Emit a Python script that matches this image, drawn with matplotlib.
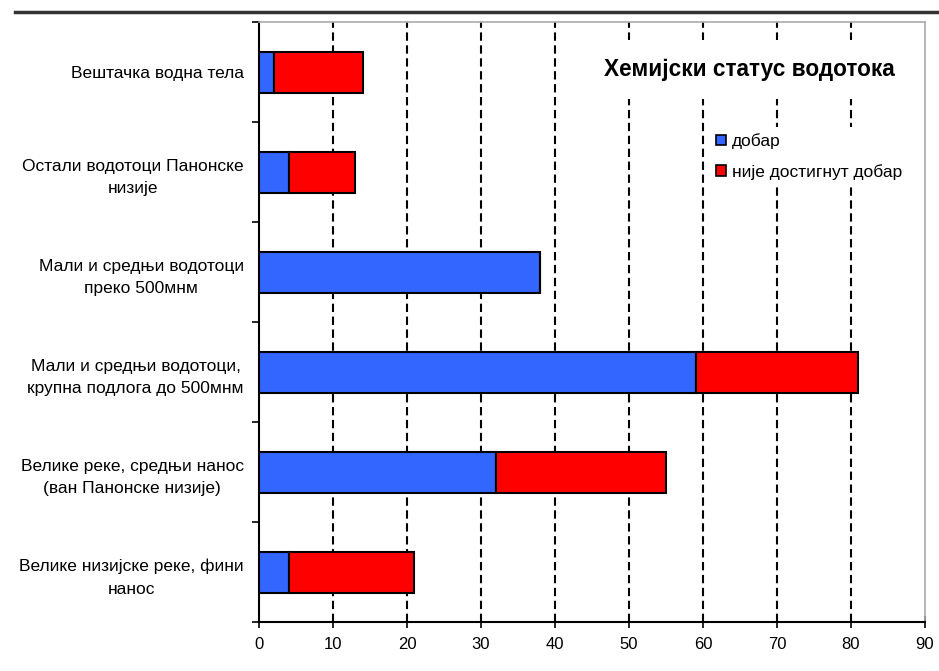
import matplotlib
matplotlib.use("Agg")
import matplotlib.pyplot as plt
from matplotlib.lines import Line2D
from matplotlib.patches import Patch
import numpy as np

plt.rcParams['font.family'] = ['Liberation Sans', 'DejaVu Sans']

categories = [
    "Вештачка водна тела",
    "Остали водотоци Панонске\nнизије",
    "Мали и средњи водотоци\nпреко 500мнм",
    "Мали и средњи водотоци,\nкрупна подлога до 500мнм",
    "Велике реке, средњи нанос\n(ван Панонске низије)",
    "Велике низијске реке, фини\nнанос",
]
good = [2, 4, 38, 59, 32, 4]
not_good = [12, 9, 0, 22, 23, 17]
series_names = ["добар", "није достигнут добар"]
title = "Хемијски статус водотока"
xticks = [0, 10, 20, 30, 40, 50, 60, 70, 80, 90]

blue = "#3366FF"
red = "#FF0000"

fig = plt.figure(figsize=(9.39, 6.71), dpi=100)
ax = fig.add_axes([259 / 939, 1 - 622 / 671, (925 - 259) / 939, 600 / 671])

y = np.arange(len(categories))
bar_h = 0.41
ax.barh(y, good, height=bar_h, color=blue, edgecolor="black", linewidth=1.5, zorder=3)
ax.barh(y, not_good, left=good, height=bar_h, color=red, edgecolor="black", linewidth=1.5, zorder=3)

ax.set_xlim(0, 90)
ax.set_ylim(len(categories) - 0.5, -0.5)

# dashed vertical grid
for v in xticks[1:-1]:
    ax.axvline(v, color="black", lw=1.5, linestyle=(0, (4, 2.2)), zorder=1)

ax.set_xticks(xticks)
ax.set_xticklabels([str(t) for t in xticks], fontsize=12)
ax.tick_params(axis="x", direction="inout", length=8, width=1.2, pad=7, colors="black")

ax.set_yticks(y)
ax.set_yticklabels(categories, fontsize=12.5, multialignment="center", linespacing=1.65)
ax.tick_params(axis="y", which="major", length=0, pad=11)
ax.set_yticks(np.arange(-0.5, len(categories), 1.0), minor=True)
ax.tick_params(axis="y", which="minor", length=5, width=1.2, direction="out")

for s in ["top", "right"]:
    ax.spines[s].set_color("#aaaaaa")
    ax.spines[s].set_linewidth(1.2)
for s in ["left", "bottom"]:
    ax.spines[s].set_color("black")
    ax.spines[s].set_linewidth(1.5)

ax.text(0.737, 0.921, title, transform=ax.transAxes, ha="center", va="center",
        fontsize=16.3, fontweight="bold", zorder=5,
        bbox=dict(facecolor="white", edgecolor="none", pad=13))

handles = [Patch(facecolor=blue, edgecolor="black", linewidth=1.2),
           Patch(facecolor=red, edgecolor="black", linewidth=1.2)]
leg = ax.legend(handles, series_names, loc="upper left", bbox_to_anchor=(0.677, 0.825),
                frameon=True, fancybox=False, edgecolor="none", facecolor="white",
                framealpha=1, fontsize=12.5, handlelength=0.55, handleheight=0.55,
                handletextpad=0.35, labelspacing=0.85, borderpad=0.35,
                borderaxespad=0)
leg.set_zorder(5)

# rule across the top of the page
fig.add_artist(Line2D([15 / 939, 1.0], [1 - 12 / 671, 1 - 12 / 671],
                      color="#333333", lw=2.5, transform=fig.transFigure))

fig.savefig("out.png", dpi=100)
